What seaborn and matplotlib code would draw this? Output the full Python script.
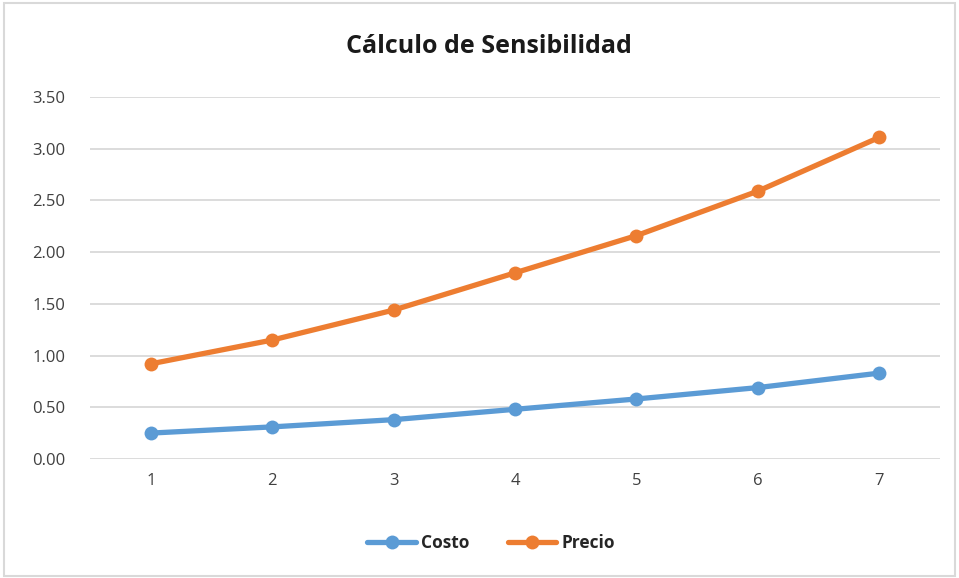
import pandas as pd
import matplotlib.pyplot as plt
import seaborn as sns
from matplotlib.patches import Rectangle

periodos = [1, 2, 3, 4, 5, 6, 7]
costo = [0.25, 0.31, 0.38, 0.48, 0.58, 0.69, 0.83]
precio = [0.92, 1.15, 1.44, 1.80, 2.16, 2.59, 3.11]

df = pd.DataFrame({
    "periodo": periodos * 2,
    "valor": costo + precio,
    "serie": ["Costo"] * 7 + ["Precio"] * 7,
})

sns.set_style("white")
plt.rcParams['font.family'] = ['Open Sans', 'DejaVu Sans']

fig = plt.figure(figsize=(9.59, 5.78), dpi=100)
ax = fig.add_axes([0.094, 0.206, 0.886, 0.626])

sns.lineplot(data=df, x="periodo", y="valor", hue="serie",
             palette={"Costo": "#5B9BD5", "Precio": "#ED7D31"},
             marker="o", markersize=10, markeredgewidth=0, linewidth=3.8,
             ax=ax)

ax.set_xlim(0.5, 7.5)
ax.set_ylim(0, 3.5)
ax.set_yticks([0, 0.5, 1.0, 1.5, 2.0, 2.5, 3.0, 3.5])
ax.set_yticklabels([f"{v:.2f}" for v in [0, 0.5, 1.0, 1.5, 2.0, 2.5, 3.0, 3.5]])
ax.set_xticks(periodos)
ax.yaxis.grid(True, color="#D9D9D9", linewidth=1.3)
ax.set_axisbelow(True)
for s in ax.spines.values():
    s.set_visible(False)
ax.tick_params(axis="both", length=0, labelsize=12, colors="#404040", pad=10)
ax.tick_params(axis="y", pad=18)
ax.set_xlabel("")
ax.set_ylabel("")

ax.legend(loc="center", bbox_to_anchor=(0.472, -0.232), ncol=2, frameon=False,
          prop={"weight": "bold", "size": 12.5}, handlelength=2.8, columnspacing=2.2,
          handletextpad=0.3)

fig.text(0.51, 0.919, "Cálculo de Sensibilidad", ha="center", va="center",
         fontsize=18, fontweight="bold", color="#1a1a1a")

fig.patches.append(Rectangle((0.004, 0.004), 0.992, 0.99, transform=fig.transFigure,
                             fill=False, edgecolor="#D9D9D9", linewidth=1.5))

fig.savefig("out.png", dpi=100)
